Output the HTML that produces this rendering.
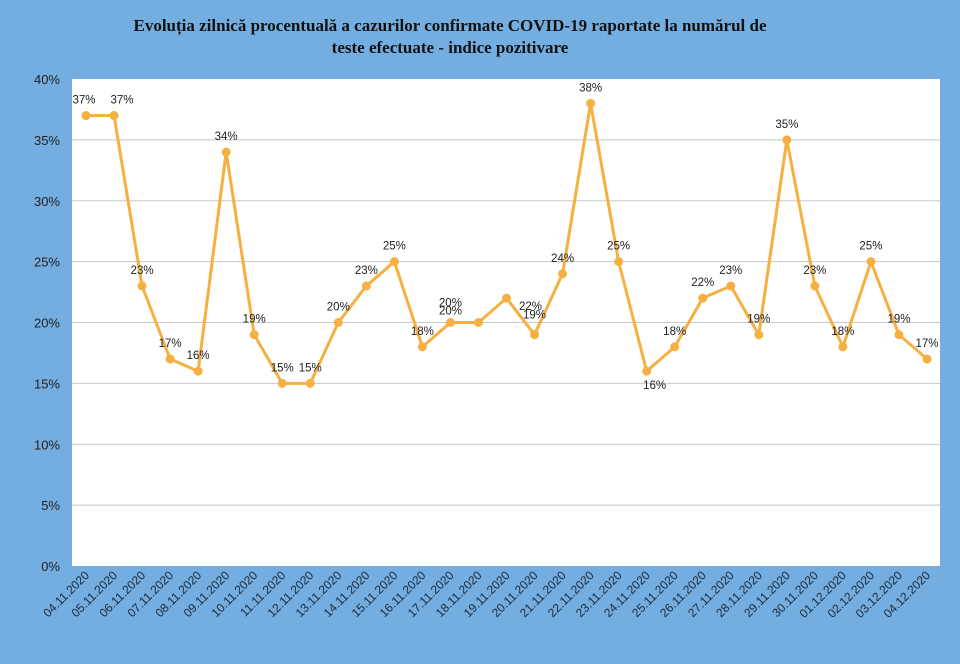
<!DOCTYPE html>
<html><head><meta charset="utf-8"><style>
body{margin:0;background:#74ade0;}
svg{display:block;font-family:"Liberation Sans",sans-serif;}
</style></head><body>
<svg width="960" height="664">
<rect width="960" height="664" fill="#74ade0"/>
<text x="450" y="31" text-anchor="middle" font-family="Liberation Serif,serif" font-weight="bold" font-size="17" fill="#111">Evoluția zilnică procentuală a cazurilor confirmate COVID-19 raportate la numărul de</text>
<text x="450" y="53" text-anchor="middle" font-family="Liberation Serif,serif" font-weight="bold" font-size="17" fill="#111">teste efectuate - indice pozitivare</text>
<rect x="72" y="79" width="868" height="487" fill="#fff"/>
<g id="grid"></g><g id="yt"></g><g id="xt"></g><g id="line"></g><g id="lbl"></g>
</svg>
<script>
const categories=["04.11.2020","05.11.2020","06.11.2020","07.11.2020","08.11.2020","09.11.2020","10.11.2020","11.11.2020","12.11.2020","13.11.2020","14.11.2020","15.11.2020","16.11.2020","17.11.2020","18.11.2020","19.11.2020","20.11.2020","21.11.2020","22.11.2020","23.11.2020","24.11.2020","25.11.2020","26.11.2020","27.11.2020","28.11.2020","29.11.2020","30.11.2020","01.12.2020","02.12.2020","03.12.2020","04.12.2020"];
const values=[37,37,23,17,16,34,19,15,15,20,23,25,18,20,20,22,19,24,38,25,16,18,22,23,19,35,23,18,25,19,17];
const yTicks=[0,5,10,15,20,25,30,35,40];
const NS="http://www.w3.org/2000/svg";
const x=i=>86+i*(927-86)/(categories.length-1);
const y=v=>566-v*(487/40);
function mk(t,a,p){const e=document.createElementNS(NS,t);for(const k in a)e.setAttribute(k,a[k]);p.appendChild(e);return e;}
const g=document.getElementById('grid'),yt=document.getElementById('yt'),xt=document.getElementById('xt'),ln=document.getElementById('line'),lb=document.getElementById('lbl');
yTicks.forEach(v=>{
  if(v>0&&v<40){const l=mk('line',{x1:72,x2:940,y1:y(v),y2:y(v),stroke:'#c8c8c8','stroke-width':1},g);
  
  }
  const t=mk('text',{x:60,y:y(v)+5,'text-anchor':'end','font-size':13,fill:'#222'},yt);t.textContent=v+'%';
  
  
});
categories.forEach((c,i)=>{
  const t=mk('text',{transform:`translate(${x(i)+4},${576}) rotate(-45)`,'text-anchor':'end','font-size':12,fill:'#1a2a3a'},xt);t.textContent=c;
  
  
});
const p=mk('polyline',{points:values.map((v,i)=>x(i)+','+y(v)).join(' '),fill:'none',stroke:'#f6b042','stroke-width':3,'stroke-linejoin':'round'},ln);


const off={15:[24,24],16:[0,-4],20:[8,30],1:[8,0],0:[-2,0],13:[0,-4],14:[-28,4]};
values.forEach((v,i)=>{
  const c=mk('circle',{cx:x(i),cy:y(v),r:4.5,fill:'#f6b042'},ln);
  
  
  const o=off[i]||[0,0];
  const t=mk('text',{x:x(i)+o[0],y:y(v)-12+o[1],'text-anchor':'middle','font-size':11.5,fill:'#222'},lb);t.textContent=v+'%';
  
  
});
</script>
</body></html>
